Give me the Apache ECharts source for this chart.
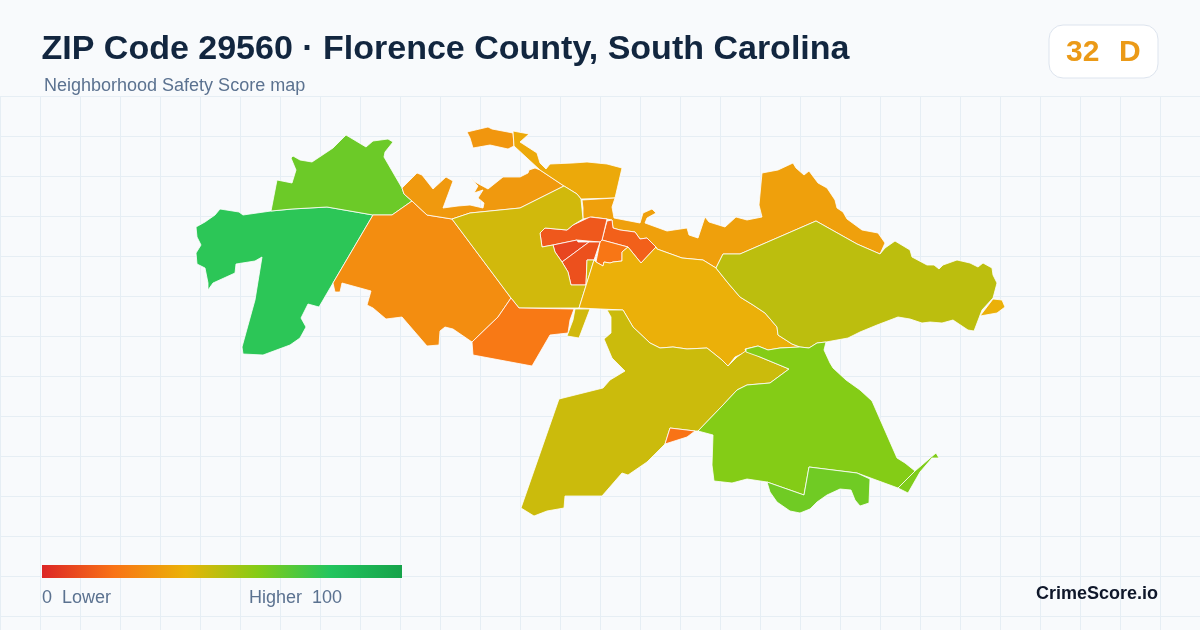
<!DOCTYPE html>
<html>
<head>
<meta charset="utf-8">
<title>ZIP Code 29560</title>
<script src="https://cdn.jsdelivr.net/npm/echarts@6/dist/echarts.min.js"></script>
<style>
html,body{margin:0;padding:0;background:#f8fafc;}
#chart{width:1200px;height:630px;}
</style>
</head>
<body>
<div id="chart"></div>
<script>
// block group names and their safety scores
var groups = ['west','northwest','midwest','nwstrip','topcap','north','northeast','coreA','coreB','coreC','coreD','coreE','center','centerTab','mideast','southmid','southwest','tri','east','eastTip','south','southLobe','southTail'];
var scores = [78,65,28,32,31,37,34,15,21,13,8,11,45,45,39,22,46,20,49,39,60,64,61];

var scaleColors = ['#dc2626','#f97316','#eab308','#84cc16','#22c55e','#16a34a'];
var overallScore = '32';
var overallGrade = 'D';

// outlines in map units
var west = [[373,215],[327,207],[292,209],[271,211],[243,215],[239,212],[220,209],[215,215],[205,222],[196,227],[197,237],[201,245],[196,253],[197,264],[205,268],[208,283],[208,290],[213,283],[235,273],[236,264],[255,261],[262,257],[255,300],[242,347],[243,354],[263,355],[290,345],[300,338],[306,327],[301,318],[308,304],[319,307],[333,283]];
var northwest = [[271,211],[277,180],[292,183],[296,170],[291,158],[293,156],[300,160],[312,162],[333,148],[346,135],[366,147],[373,141],[388,139],[393,142],[385,152],[384,157],[402,188],[404,194],[412,201],[392,215],[373,215],[327,207],[292,209]];
var midwest = [[373,215],[392,215],[412,201],[427,215],[452,219],[511,298],[498,317],[472,342],[453,329],[445,327],[440,331],[439,345],[427,346],[402,317],[386,319],[373,308],[367,305],[371,291],[342,283],[340,292],[335,292],[333,283]];
var nwstrip = [[412,201],[404,194],[402,188],[417,173],[422,175],[433,189],[446,177],[453,181],[443,208],[458,206],[470,205],[483,208],[484,203],[478,198],[483,190],[474,193],[478,186],[470,178],[475,182],[488,189],[503,177],[520,177],[528,173],[529,170],[535,168],[540,170],[555,180],[564,186],[520,208],[470,213],[452,219],[427,215]];
var topcap = [[467,132],[488,127],[492,129],[513,133],[514,146],[508,149],[490,145],[473,148],[470,138]];
var north = [[513,131],[529,134],[520,142],[537,153],[540,163],[546,169],[550,164],[573,163],[587,162],[607,164],[622,168],[615,198],[581,199],[577,194],[564,186],[555,180],[540,170],[514,146]];
var northeast = [[582,200],[615,198],[612,207],[614,218],[640,223],[643,213],[652,209],[656,213],[647,218],[645,223],[667,231],[687,228],[689,235],[698,238],[705,217],[709,222],[725,227],[736,217],[747,220],[762,217],[759,205],[762,173],[778,170],[793,163],[796,168],[804,175],[809,171],[818,183],[827,188],[835,200],[837,208],[843,212],[847,219],[862,230],[878,233],[885,243],[880,254],[857,244],[816,221],[740,254],[723,254],[716,268],[703,260],[682,258],[657,249],[656,247],[647,238],[640,239],[635,232],[620,230],[613,228],[612,220],[607,219],[592,217],[583,219],[583,208]];
var coreA = [[607,221],[612,220],[613,228],[620,230],[635,232],[640,239],[647,238],[656,247],[641,263],[628,247],[602,240]];
var coreB = [[602,240],[628,247],[622,252],[622,261],[613,262],[610,263],[604,262],[603,266],[596,262],[600,242]];
var coreC = [[540,233],[545,228],[567,230],[573,225],[590,217],[607,219],[602,240],[600,242],[588,241],[577,240],[553,245],[542,247]];
var coreD = [[553,245],[577,240],[578,242],[589,242],[562,262],[555,252]];
var coreE = [[589,242],[600,242],[594,260],[587,260],[586,285],[571,285],[568,272],[562,262]];
var center = [[452,219],[470,213],[520,208],[564,186],[577,194],[581,199],[583,219],[573,225],[567,230],[545,228],[540,233],[542,247],[553,245],[555,252],[562,262],[568,272],[571,285],[586,285],[587,260],[594,260],[579,308],[519,308],[511,298]];
var centerTab = [[575,309],[590,309],[579,338],[567,336],[573,320]];
var mideast = [[594,260],[596,262],[603,266],[604,262],[610,263],[613,262],[622,261],[622,252],[628,247],[641,263],[656,247],[657,249],[682,258],[703,260],[716,268],[728,283],[740,297],[753,305],[765,313],[777,327],[778,335],[792,344],[800,347],[780,348],[768,350],[758,346],[745,349],[746,352],[735,357],[728,366],[722,360],[707,348],[687,349],[673,347],[660,348],[650,343],[633,327],[623,310],[579,308]];
var southmid = [[519,308],[574,309],[570,320],[568,333],[550,335],[532,366],[473,355],[472,342],[498,317],[511,298]];
var southwest = [[607,310],[623,310],[633,327],[650,343],[660,348],[673,347],[687,349],[707,348],[722,360],[728,366],[737,357],[747,350],[760,357],[789,369],[770,383],[747,385],[737,390],[723,405],[698,431],[695,431],[670,428],[665,444],[647,462],[628,475],[622,473],[602,496],[565,496],[564,508],[547,511],[534,516],[521,508],[559,399],[603,388],[610,380],[625,371],[612,358],[604,339],[611,333],[611,317]];
var tri = [[670,428],[695,431],[687,437],[665,444]];
var east = [[716,268],[723,254],[740,254],[816,221],[857,244],[880,254],[885,248],[895,241],[910,250],[912,257],[927,265],[934,265],[939,269],[943,265],[957,260],[970,263],[978,267],[983,263],[992,268],[993,275],[997,283],[993,298],[982,310],[974,331],[968,330],[953,320],[942,323],[930,322],[922,323],[910,319],[898,317],[877,325],[860,332],[848,338],[826,342],[817,343],[809,348],[800,347],[792,344],[778,335],[777,327],[765,313],[753,305],[740,297],[728,283]];
var eastTip = [[993,299],[1002,300],[1005,307],[997,313],[980,316]];
var south = [[698,431],[713,435],[712,465],[714,481],[732,483],[747,479],[767,482],[804,495],[809,467],[857,473],[898,488],[915,471],[905,463],[897,458],[872,401],[860,390],[846,380],[833,368],[830,363],[824,350],[826,342],[817,343],[809,348],[800,347],[780,348],[768,350],[758,346],[746,349],[746,352],[760,357],[789,369],[770,383],[747,385],[737,390],[723,405]];
var southLobe = [[767,482],[804,495],[809,467],[857,473],[870,479],[869,503],[860,506],[855,500],[851,490],[840,489],[827,495],[817,502],[810,509],[800,513],[790,511],[777,502],[770,492]];
var southTail = [[898,488],[915,471],[936,453],[939,458],[932,458],[920,472],[908,493]];

var outlines = [west,northwest,midwest,nwstrip,topcap,north,northeast,coreA,coreB,coreC,coreD,coreE,center,centerTab,mideast,southmid,southwest,tri,east,eastTip,south,southLobe,southTail];

var features = [];
var seriesData = [];
for (var i = 0; i < groups.length; i++) {
	features.push({
		type: 'Feature',
		properties: {name: groups[i]},
		geometry: {type: 'Polygon', coordinates: [outlines[i].concat([outlines[i][0]])]}
	});
	seriesData.push({name: groups[i], value: scores[i]});
}
echarts.registerMap('zip29560', {type: 'FeatureCollection', features: features});

// legend bar stops
var barStops = [];
for (var k = 0; k < scaleColors.length; k++) {
	barStops.push({offset: k / (scaleColors.length - 1), color: scaleColors[k]});
}

var myChart = echarts.init(document.getElementById('chart'));
var fontName = '"Liberation Sans", Arial, sans-serif';
var option = {
	animation: false,
	backgroundColor: '#f8fafc',
	textStyle: {fontFamily: fontName},
	title: [
		{text: 'ZIP Code 29560 · Florence County, South Carolina', left: 41.5, top: 33, padding: 0, textStyle: {fontSize: 34, fontWeight: 'bold', color: '#12263f', fontFamily: fontName}},
		{text: 'Neighborhood Safety Score map', left: 44, top: 77, padding: 0, textStyle: {fontSize: 18, fontWeight: 'normal', color: '#5b7290', fontFamily: fontName}},
		{text: overallScore, left: 1066, top: 38, padding: 0, textStyle: {fontSize: 30, fontWeight: 'bold', color: '#eb9a17', fontFamily: fontName}},
		{text: overallGrade, left: 1119, top: 38, padding: 0, textStyle: {fontSize: 30, fontWeight: 'bold', color: '#eb9a17', fontFamily: fontName}},
		{text: '0  Lower', left: 42, top: 589, padding: 0, textStyle: {fontSize: 18, fontWeight: 'normal', color: '#5b7290', fontFamily: fontName}},
		{text: 'Higher  100', left: 249, top: 589, padding: 0, textStyle: {fontSize: 18, fontWeight: 'normal', color: '#5b7290', fontFamily: fontName}},
		{text: 'CrimeScore.io', right: 42, top: 585, padding: 0, textStyle: {fontSize: 18, fontWeight: 'bold', color: '#0f172a', fontFamily: fontName}}
	],
	grid: {left: 0, right: 0, top: 96, bottom: 0},
	xAxis: {
		type: 'value', min: 0, max: 1200, interval: 40,
		axisLine: {show: false}, axisTick: {show: false}, axisLabel: {show: false},
		splitLine: {show: true, lineStyle: {color: '#e6eef4', width: 1}}
	},
	yAxis: {
		type: 'value', inverse: true, min: 0, max: 534, interval: 40,
		axisLine: {show: false}, axisTick: {show: false}, axisLabel: {show: false},
		splitLine: {show: true, lineStyle: {color: '#e6eef4', width: 1}}
	},
	visualMap: {
		type: 'continuous',
		min: 0, max: 100,
		show: false,
		seriesIndex: 0,
		inRange: {color: scaleColors}
	},
	graphic: [{
		type: 'rect', z: 1,
		shape: {x: 1049, y: 25, width: 109, height: 53, r: 14},
		style: {fill: '#ffffff', stroke: '#dde4ee', lineWidth: 1}
	}, {
		type: 'rect', z: 1,
		shape: {x: 42, y: 565, width: 360, height: 13},
		style: {fill: new echarts.graphic.LinearGradient(0, 0, 1, 0, barStops)}
	}],
	series: [{
		type: 'map',
		map: 'zip29560',
		silent: true,
		projection: {
			project: function (p) { return p; },
			unproject: function (p) { return p; }
		},
		layoutCenter: [600.5, 321.5],
		layoutSize: 809,
		label: {show: false},
		itemStyle: {borderColor: '#ffffff', borderWidth: 0.8},
		emphasis: {disabled: true},
		select: {disabled: true},
		data: seriesData
	}]
};
myChart.setOption(option);
</script>
</body>
</html>
